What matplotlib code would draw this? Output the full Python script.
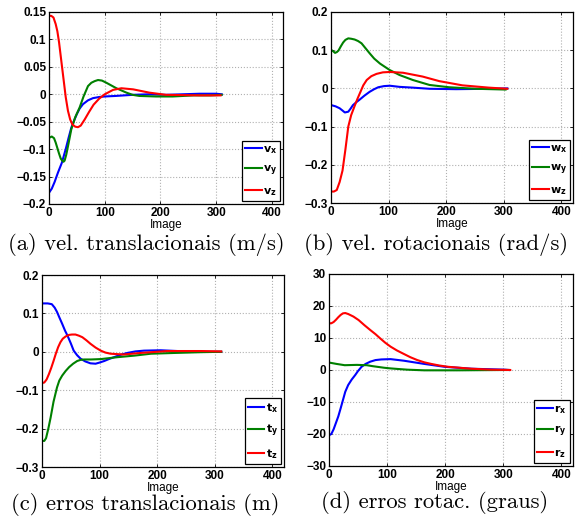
import matplotlib
matplotlib.use("Agg")
import matplotlib.pyplot as plt

# ---- (a) translational velocities (m/s)
vx_x = [1, 5, 10, 16, 23, 30, 35, 40, 45, 50, 55, 61, 70, 79, 90, 100, 120, 150, 180, 210, 240,
        270, 300, 310]
vx_y = [-0.178, -0.172, -0.160, -0.143, -0.125, -0.100, -0.080, -0.061, -0.048, -0.036, -0.026,
        -0.018, -0.011, -0.007, -0.005, -0.004, -0.003, -0.001, 0.000, -0.001, 0.000, 0.001,
        0.001, 0.000]
vy_x = [1, 5, 9, 12, 15, 18, 21, 23, 26, 28, 31, 35, 40, 47, 55, 62, 70, 76, 82, 88, 95, 103,
        112, 121, 130, 139, 150, 162, 192, 222, 260, 290, 310]
vy_y = [-0.079, -0.077, -0.080, -0.088, -0.098, -0.108, -0.117, -0.120, -0.123, -0.121, -0.110,
        -0.090, -0.064, -0.042, -0.024, -0.004, 0.015, 0.021, 0.024, 0.026, 0.025, 0.021, 0.016,
        0.011, 0.007, 0.003, -0.001, -0.003, -0.004, -0.004, -0.002, -0.002, -0.001]
vz_x = [1, 4, 8, 12, 15, 18, 21, 24, 27, 30, 34, 38, 42, 47, 52, 57, 64, 72, 80, 90, 100, 115,
        130, 151, 180, 210, 270, 308]
vz_y = [0.143, 0.143, 0.140, 0.128, 0.115, 0.095, 0.070, 0.045, 0.020, -0.005, -0.030, -0.046,
        -0.055, -0.059, -0.060, -0.057, -0.046, -0.032, -0.019, -0.008, 0.000, 0.008, 0.011,
        0.009, 0.003, -0.001, -0.002, -0.002]

# ---- (b) rotational velocities (rad/s)
wx_x = [1, 8, 15, 20, 24, 30, 34, 38, 44, 50, 58, 67, 75, 82, 92, 102, 119, 142, 171, 217, 274,
        306]
wx_y = [-0.044, -0.047, -0.052, -0.058, -0.063, -0.061, -0.053, -0.044, -0.036, -0.029, -0.019,
        -0.009, -0.002, 0.003, 0.006, 0.007, 0.004, 0.002, -0.001, -0.002, -0.001, 0.000]
wy_x = [1, 4, 7, 10, 13, 17, 21, 25, 30, 35, 41, 47, 53, 60, 67, 75, 85, 102, 119, 142, 171, 205,
        251, 303]
wy_y = [0.100, 0.097, 0.093, 0.095, 0.099, 0.110, 0.120, 0.127, 0.131, 0.130, 0.128, 0.124,
        0.118, 0.105, 0.092, 0.078, 0.065, 0.048, 0.035, 0.022, 0.009, 0.003, -0.001, -0.003]
wz_x = [1, 5, 10, 15, 20, 25, 30, 35, 41, 46, 50, 56, 62, 70, 79, 90, 102, 125, 159, 188, 228,
        274, 306]
wz_y = [-0.270, -0.270, -0.266, -0.245, -0.215, -0.160, -0.100, -0.070, -0.046, -0.027, -0.013,
        0.008, 0.022, 0.032, 0.038, 0.042, 0.043, 0.041, 0.031, 0.019, 0.008, 0.002, -0.001]

# ---- (c) translational errors (m)
tx_x = [1, 10, 17, 22, 26, 30, 35, 40, 44, 50, 55, 61, 67, 75, 84, 93, 100, 108, 116, 125, 136,
        148, 162, 177, 206, 235, 276, 311]
tx_y = [0.126, 0.126, 0.124, 0.115, 0.104, 0.090, 0.073, 0.055, 0.043, 0.022, 0.003, -0.009,
        -0.018, -0.025, -0.030, -0.031, -0.028, -0.024, -0.019, -0.014, -0.008, -0.003, 0.001,
        0.003, 0.004, 0.002, 0.000, 0.000]
ty_x = [1, 4, 7, 11, 15, 20, 26, 30, 35, 41, 47, 54, 61, 67, 73, 85, 102, 131, 160, 189, 230,
        276, 311]
ty_y = [-0.232, -0.232, -0.225, -0.200, -0.171, -0.130, -0.093, -0.075, -0.062, -0.050, -0.040,
        -0.031, -0.024, -0.021, -0.020, -0.020, -0.019, -0.014, -0.010, -0.005, -0.003, -0.001,
        0.000]
tz_x = [1, 4, 8, 12, 16, 20, 24, 28, 32, 36, 41, 47, 52, 58, 64, 70, 77, 84, 93, 102, 110, 119,
        130, 142, 156, 171, 218, 276, 311]
tz_y = [-0.081, -0.080, -0.072, -0.058, -0.042, -0.024, -0.005, 0.012, 0.025, 0.034, 0.040,
        0.044, 0.045, 0.045, 0.042, 0.038, 0.030, 0.021, 0.011, 0.003, -0.002, -0.005, -0.006,
        -0.007, -0.005, -0.003, 0.002, 0.002, 0.001]

# ---- (d) rotational errors (degrees)
rx_x = [1, 4, 8, 12, 16, 20, 24, 28, 33, 39, 45, 50, 56, 63, 71, 80, 90, 106, 129, 164, 199, 245,
        303, 310]
rx_y = [-20.3, -20.0, -18.5, -16.5, -14.5, -12.0, -9.4, -6.8, -4.7, -3.0, -1.6, -0.3, 1.0, 1.9,
        2.6, 3.1, 3.3, 3.4, 2.9, 1.9, 1.0, 0.4, 0.1, 0.0]
ry_x = [1, 13, 27, 48, 65, 75, 83, 95, 106, 120, 135, 164, 222, 303, 310]
ry_y = [2.3, 1.9, 1.5, 1.6, 1.5, 1.2, 1.0, 0.7, 0.5, 0.3, 0.1, -0.1, -0.1, 0.0, 0.0]
rz_x = [1, 4, 8, 12, 16, 20, 24, 28, 33, 42, 51, 61, 71, 80, 88, 97, 106, 117, 129, 140, 152,
        164, 176, 190, 205, 245, 280, 312]
rz_y = [14.6, 14.6, 15.0, 15.7, 16.5, 17.2, 17.7, 17.8, 17.5, 16.7, 15.6, 14.0, 12.5, 11.2, 9.9,
        8.5, 7.3, 6.1, 5.0, 4.0, 3.1, 2.4, 1.9, 1.4, 1.0, 0.4, 0.1, 0.0]

COLORS = ["#0000ff", "#008000", "#ff0000"]

panels = [
    dict(rect=[49 / 581, 1 - 204 / 524, 234 / 581, 192 / 524],
         series=[(vx_x, vx_y), (vy_x, vy_y), (vz_x, vz_y)], sym="v",
         ylim=(-0.2, 0.15), yticks=[-0.2, -0.15, -0.1, -0.05, 0, 0.05, 0.1, 0.15],
         ylabels=["-0.2", "-0.15", "-0.1", "-0.05", "0", "0.05", "0.1", "0.15"],
         caption="(a) vel. translacionais (m/s)", cap_xy=(146, 245)),
    dict(rect=[331 / 581, 1 - 203 / 524, 242 / 581, 191 / 524],
         series=[(wx_x, wx_y), (wy_x, wy_y), (wz_x, wz_y)], sym="w",
         ylim=(-0.3, 0.2), yticks=[-0.3, -0.2, -0.1, 0, 0.1, 0.2],
         ylabels=["-0.3", "-0.2", "-0.1", "0", "0.1", "0.2"],
         caption="(b) vel. rotacionais (rad/s)", cap_xy=(436, 244)),
    dict(rect=[42 / 581, 1 - 467 / 524, 242 / 581, 192 / 524],
         series=[(tx_x, tx_y), (ty_x, ty_y), (tz_x, tz_y)], sym="t",
         ylim=(-0.3, 0.2), yticks=[-0.3, -0.2, -0.1, 0, 0.1, 0.2],
         ylabels=["-0.3", "-0.2", "-0.1", "0", "0.1", "0.2"],
         caption="(c) erros translacionais (m)", cap_xy=(145, 504)),
    dict(rect=[329 / 581, 1 - 466 / 524, 244 / 581, 192 / 524],
         series=[(rx_x, rx_y), (ry_x, ry_y), (rz_x, rz_y)], sym="r",
         ylim=(-30, 30), yticks=[-30, -20, -10, 0, 10, 20, 30],
         ylabels=["-30", "-20", "-10", "0", "10", "20", "30"],
         caption="(d) erros rotac. (graus)", cap_xy=(435, 503)),
]

fig = plt.figure(figsize=(5.81, 5.24), dpi=100)

for p in panels:
    ax = fig.add_axes(p["rect"])
    for (xs, ys), color, sub in zip(p["series"], COLORS, "xyz"):
        ax.plot(xs, ys, color=color, linewidth=1.5,
                label=r"$\mathbf{%s}_\mathbf{%s}$" % (p["sym"], sub))
    ax.set_xlim(0, 420)
    ax.set_ylim(*p["ylim"])
    ax.set_xticks([0, 100, 200, 300, 400])
    ax.set_xticklabels(["0", "100", "200", "300", "400"])
    ax.set_yticks(p["yticks"])
    ax.set_yticklabels([s.replace("-", "\u2212") for s in p["ylabels"]])
    for lab in ax.get_xticklabels() + ax.get_yticklabels():
        lab.set_fontfamily("Liberation Sans")
        lab.set_fontweight("bold")
        lab.set_fontsize(8.5)
    ax.tick_params(direction="in", length=2, width=0.6, top=True, right=True, pad=2)
    ax.grid(True, linestyle=":", color="#b0b0b0", linewidth=0.8)
    for sp in ax.spines.values():
        sp.set_linewidth(0.9)
    ax.set_xlabel("Image", fontfamily="Liberation Sans", fontsize=8.5, labelpad=0)
    leg = ax.legend(loc="lower right", fontsize=8, frameon=True, fancybox=False,
                    framealpha=1, edgecolor="black", handlelength=1.45, labelspacing=0.72,
                    borderaxespad=0.25, borderpad=0.3, handletextpad=0.1)
    leg.get_frame().set_linewidth(0.9)
    fig.text(p["cap_xy"][0] / 581, 1 - p["cap_xy"][1] / 524, p["caption"],
             ha="center", va="center", fontfamily="cmr10", fontsize=16.3)

fig.savefig("out.png", dpi=100)
